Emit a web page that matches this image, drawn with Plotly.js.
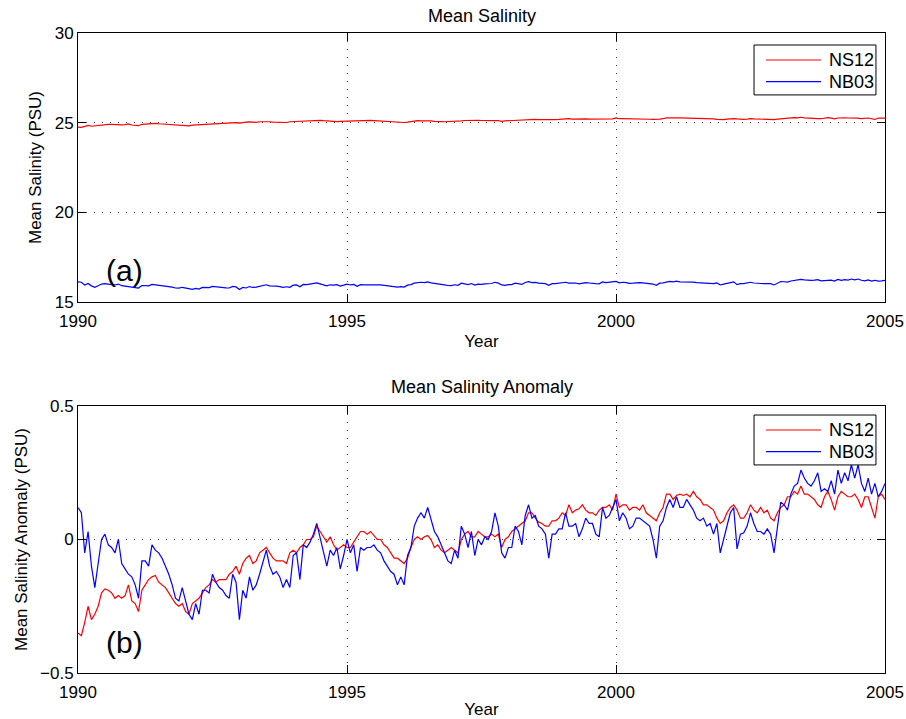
<!DOCTYPE html>
<html>
<head>
<meta charset="utf-8">
<script src="https://cdn.plot.ly/plotly-3.0.1.min.js"></script>
<style>
  html, body { margin: 0; padding: 0; background: #fff; }
  #chart { width: 906px; height: 719px; }
</style>
</head>
<body>
<div id="chart"></div>
<script>
// Station records, sampled 16 times per year from 1990 to 2005.
const startYear = 1990;
const samplesPerYear = 16;

// Salinity anomaly (PSU) at station NS12
const ns12Anom = [
  -0.35, -0.36, -0.31, -0.25, -0.30, -0.28, -0.25, -0.20, -0.185, -0.19,
  -0.20, -0.22, -0.21, -0.22, -0.21, -0.17, -0.23, -0.24, -0.27, -0.19,
  -0.17, -0.15, -0.14, -0.135, -0.16, -0.17, -0.18, -0.20, -0.22, -0.24,
  -0.25, -0.24, -0.27, -0.28, -0.24, -0.23, -0.22, -0.20, -0.18, -0.17,
  -0.15, -0.16, -0.15, -0.15, -0.15, -0.13, -0.12, -0.10, -0.13, -0.09,
  -0.07, -0.06, -0.09, -0.08, -0.05, -0.04, -0.03, -0.05, -0.07, -0.08,
  -0.08, -0.08, -0.09, -0.05, -0.04, -0.05, -0.03, -0.02, 0.0, 0.0,
  0.01, 0.05, 0.03, 0.01, -0.01, 0.01, -0.02, -0.04, -0.03, -0.02,
  -0.03, -0.03, -0.01, 0.01, 0.03, 0.03, 0.02, 0.03, 0.015, 0.0,
  0.0, -0.02, -0.03, -0.05, -0.07, -0.07, -0.08, -0.09, -0.07, -0.03,
  0.0, 0.01, 0.0, 0.01, 0.015, 0.0, -0.03, -0.02, -0.04, -0.05,
  -0.04, -0.03, -0.04, -0.05, 0.0, 0.02, 0.03, 0.01, 0.01, 0.03,
  0.02, 0.01, 0.01, 0.02, 0.01, 0.02, -0.03, 0.0, 0.01, 0.03,
  0.04, 0.05, 0.06, 0.07, 0.10, 0.10, 0.08, 0.065, 0.06, 0.05,
  0.05, 0.07, 0.07, 0.08, 0.10, 0.09, 0.13, 0.10, 0.11, 0.115,
  0.13, 0.11, 0.10, 0.10, 0.09, 0.11, 0.12, 0.12, 0.13, 0.11,
  0.17, 0.12, 0.13, 0.13, 0.11, 0.12, 0.12, 0.11, 0.13, 0.10,
  0.09, 0.08, 0.07, 0.10, 0.12, 0.17, 0.17, 0.15, 0.165, 0.17,
  0.165, 0.17, 0.16, 0.18, 0.16, 0.15, 0.13, 0.13, 0.12, 0.11,
  0.08, 0.06, 0.07, 0.10, 0.12, 0.13, 0.11, 0.08, 0.08, 0.10,
  0.13, 0.11, 0.10, 0.12, 0.10, 0.11, 0.08, 0.07, 0.10, 0.12,
  0.13, 0.16, 0.16, 0.18, 0.17, 0.20, 0.17, 0.17, 0.16, 0.15,
  0.13, 0.12, 0.16, 0.18, 0.15, 0.11, 0.16, 0.18, 0.17, 0.16,
  0.16, 0.17, 0.15, 0.12, 0.16, 0.16, 0.12, 0.08, 0.16, 0.17,
  0.15
];

// Salinity anomaly (PSU) at station NB03
const nb03Anom = [
  0.12, 0.10, -0.05, 0.03, -0.10, -0.18, -0.09, 0.0, 0.02, -0.02,
  -0.03, -0.05, 0.0, -0.09, -0.11, -0.13, -0.14, -0.17, -0.22, -0.08,
  -0.08, -0.10, -0.02, -0.04, -0.05, -0.07, -0.10, -0.13, -0.17, -0.22,
  -0.23, -0.18, -0.23, -0.28, -0.30, -0.24, -0.28, -0.19, -0.19, -0.20,
  -0.13, -0.16, -0.18, -0.19, -0.21, -0.22, -0.13, -0.16, -0.30, -0.19,
  -0.22, -0.14, -0.19, -0.17, -0.13, -0.08, -0.04, -0.10, -0.13, -0.12,
  -0.14, -0.18, -0.15, -0.18, -0.06, -0.05, -0.15, -0.02, -0.03, -0.01,
  0.02, 0.06, 0.01, -0.05, -0.10, -0.04, -0.06, -0.03, -0.11, -0.06,
  0.0, -0.05, -0.02, -0.12, -0.03, -0.04, -0.03, -0.03, -0.02, -0.04,
  -0.05, -0.08, -0.10, -0.12, -0.13, -0.17, -0.14, -0.17, -0.06, -0.03,
  0.05, 0.08, 0.10, 0.08, 0.12, 0.07, 0.03, 0.01, -0.02, -0.05,
  -0.08, -0.09, -0.04, -0.07, 0.05, 0.02, -0.03, 0.03, -0.06, 0.0,
  -0.02, 0.01, 0.0, 0.03, 0.10, 0.05, -0.05, -0.07, -0.03, -0.03,
  0.05, 0.03, -0.02, 0.09, 0.13, 0.08, 0.09, 0.05, 0.04, 0.02,
  -0.07, 0.02, 0.02, 0.04, 0.04, 0.10, 0.05, 0.05, 0.06, 0.01,
  0.04, 0.08, 0.06, 0.06, 0.02, 0.01, 0.12, 0.08, 0.09, 0.12,
  0.15, 0.07, 0.10, 0.08, 0.04, 0.05, 0.08, 0.08, 0.07, 0.06,
  0.05, 0.0, -0.07, 0.05, 0.07, 0.12, 0.15, 0.12, 0.16, 0.12,
  0.12, 0.15, 0.13, 0.11, 0.08, 0.07, 0.08, 0.05, 0.06, 0.02,
  0.06, -0.05, 0.0, 0.05, 0.10, 0.12, -0.035, 0.02, 0.025, 0.05,
  0.10, 0.06, 0.03, 0.03, 0.02, 0.04, 0.02, -0.05, 0.05, 0.14,
  0.13, 0.11, 0.17, 0.20, 0.21, 0.26, 0.23, 0.21, 0.20, 0.22,
  0.25, 0.18, 0.19, 0.18, 0.22, 0.17, 0.26, 0.21, 0.25, 0.22,
  0.28, 0.23, 0.28, 0.21, 0.18, 0.23, 0.17, 0.21, 0.16, 0.18,
  0.21
];

// Long-term mean salinity (PSU) of each station
const ns12Mean = 25.1;
const nb03Mean = 16.0;

const stationNames = ['NS12', 'NB03'];
const stationColors = ['#ff0000', '#0000ff'];

const xTicks = [1990, 1995, 2000, 2005];
const salinityTicks = [15, 20, 25, 30];
const anomalyTicks = [-0.5, 0, 0.5];

// time axis of the samples
const years = ns12Anom.map((_, i) => startYear + i / samplesPerYear);

// absolute salinity = station mean + anomaly
const ns12Sal = ns12Anom.map(v => ns12Mean + v);
const nb03Sal = nb03Anom.map(v => nb03Mean + v);

const FONT = 'Liberation Sans, Arial, Helvetica, sans-serif';

function lineTrace(y, k, xa, ya) {
  return {
    type: 'scatter', mode: 'lines',
    x: years, y: y,
    name: stationNames[k],
    line: { color: stationColors[k], width: 1.2 },
    xaxis: xa, yaxis: ya,
    hoverinfo: 'x+y+name'
  };
}

const data = [
  lineTrace(ns12Sal, 0, 'x', 'y'),
  lineTrace(nb03Sal, 1, 'x', 'y'),
  lineTrace(ns12Anom, 0, 'x2', 'y2'),
  lineTrace(nb03Anom, 1, 'x2', 'y2')
];

function axisStyle(extra) {
  return Object.assign({
    ticks: 'inside', ticklen: 8, tickwidth: 1, tickcolor: '#000',
    showline: true, linecolor: '#000', linewidth: 1, mirror: 'ticks',
    showgrid: true, gridcolor: '#444', gridwidth: 1, griddash: '1px,7px',
    zeroline: false, automargin: false,
    tickfont: { family: FONT, size: 17, color: '#000' }
  }, extra);
}

// Boxed key in the upper-right corner of a panel (paper coordinates).
// top: top edge of the box; the two entries follow below it.
function keyBox(top) {
  const left = 0.8377, right = 0.9888, height = 0.078;
  const rowA = top - 0.0234, rowB = top - 0.0573;
  const lineX0 = 0.8525, lineX1 = 0.9207, textX = 0.9281;
  const shapes = [
    { type: 'rect', xref: 'paper', yref: 'paper', x0: left, x1: right,
      y0: top - height, y1: top, line: { color: '#000', width: 1 },
      fillcolor: '#fff', layer: 'above' }
  ];
  const notes = [];
  [rowA, rowB].forEach((ry, k) => {
    shapes.push({ type: 'line', xref: 'paper', yref: 'paper', x0: lineX0, x1: lineX1,
      y0: ry, y1: ry, line: { color: stationColors[k], width: 1.2 }, layer: 'above' });
    notes.push({ text: stationNames[k], xref: 'paper', yref: 'paper', x: textX, y: ry,
      xanchor: 'left', yanchor: 'middle', showarrow: false,
      font: { family: FONT, size: 18, color: '#000' } });
  });
  return { shapes, notes };
}

const keyTop = keyBox(0.98125);
const keyBottom = keyBox(0.4031);

const layout = {
  width: 906, height: 719,
  margin: { l: 78, r: 21, t: 33, b: 46 },
  paper_bgcolor: '#fff', plot_bgcolor: '#fff',
  font: { family: FONT, size: 17, color: '#000' },
  showlegend: false,
  xaxis: axisStyle({
    domain: [0, 1], anchor: 'y', range: [1990, 2005], tickvals: xTicks,
    ticklabelstandoff: 4,
    title: { text: 'Year', font: { family: FONT, size: 17 }, standoff: 4 }
  }),
  yaxis: axisStyle({
    domain: [0.5797, 1], anchor: 'x', range: [15, 30], tickvals: salinityTicks,
    title: { text: 'Mean Salinity (PSU)', font: { family: FONT, size: 17 }, standoff: 8 }
  }),
  xaxis2: axisStyle({
    domain: [0, 1], anchor: 'y2', range: [1990, 2005], tickvals: xTicks,
    ticklabelstandoff: 4,
    title: { text: 'Year', font: { family: FONT, size: 17 }, standoff: 4 }
  }),
  yaxis2: axisStyle({
    domain: [0, 0.4172], anchor: 'x2', range: [-0.5, 0.5], tickvals: anomalyTicks,
    title: { text: 'Mean Salinity Anomaly (PSU)', font: { family: FONT, size: 17 }, standoff: 8 }
  }),
  shapes: keyTop.shapes.concat(keyBottom.shapes),
  annotations: [
    { text: 'Mean Salinity', xref: 'paper', yref: 'paper', x: 0.5, y: 1,
      xanchor: 'center', yanchor: 'bottom', yshift: 5, showarrow: false,
      font: { family: FONT, size: 18, color: '#000' } },
    { text: 'Mean Salinity Anomaly', xref: 'paper', yref: 'paper', x: 0.5, y: 0.4172,
      xanchor: 'center', yanchor: 'bottom', yshift: 7, showarrow: false,
      font: { family: FONT, size: 18, color: '#000' } },
    { text: '(a)', xref: 'x', yref: 'y', x: 1990.87, y: 16.73,
      xanchor: 'center', yanchor: 'middle', showarrow: false,
      font: { family: FONT, size: 30, color: '#000' } },
    { text: '(b)', xref: 'x2', yref: 'y2', x: 1990.87, y: -0.386,
      xanchor: 'center', yanchor: 'middle', showarrow: false,
      font: { family: FONT, size: 30, color: '#000' } }
  ].concat(keyTop.notes, keyBottom.notes)
};

Plotly.newPlot('chart', data, layout, { displayModeBar: false, staticPlot: true });
</script>
</body>
</html>
